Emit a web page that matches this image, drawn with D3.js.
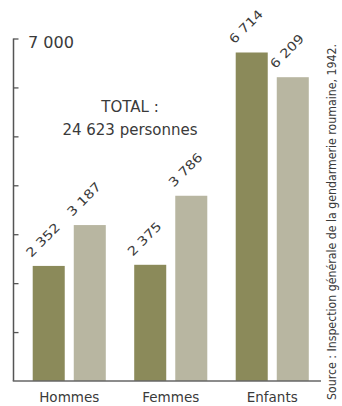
<!DOCTYPE html>
<html><head><meta charset="utf-8">
<script src="https://cdn.jsdelivr.net/npm/d3@7"></script>
<style>body{margin:0;background:#fff}svg{display:block}text{font-family:"DejaVu Sans",sans-serif;fill:#3a3a3a}</style>
</head><body>
<svg id="c" width="342" height="406"></svg>
<script>
const categories = ["Hommes", "Femmes", "Enfants"];
const series1942a = [2352, 2375, 6714];
const series1942b = [3187, 3786, 6209];
const valueLabelsA = ["2 352", "2 375", "6 714"];
const valueLabelsB = ["3 187", "3 786", "6 209"];
const tickValues = [1000, 2000, 3000, 4000, 5000, 6000, 7000];
const topTickLabel = "7 000";
const totalLines = ["TOTAL :", "24 623 personnes"];
const sourceText = "Source : Inspection générale de la gendarmerie roumaine, 1942.";
const colors = ["#8b8a5a", "#b8b6a1"];

const svg = d3.select("#c");
const x0 = d3.scaleBand().domain(categories).range([18.5, 323]).paddingInner(0.28).paddingOuter(0.14);
const x1 = d3.scaleBand().domain([0, 1]).range([0, x0.bandwidth()]).paddingInner(0.22).paddingOuter(0);
const y = d3.scaleLinear().domain([0, 7000]).range([381, 38.5]);

const data = categories.map((c, i) => ({c, vals: [series1942a[i], series1942b[i]], labs: [valueLabelsA[i], valueLabelsB[i]]}));

const g = svg.selectAll("g.grp").data(data).join("g").attr("class", "grp")
  .attr("transform", d => `translate(${x0(d.c)},0)`);
g.selectAll("rect").data(d => d.vals.map((v, k) => ({v, k}))).join("rect")
  .attr("x", d => x1(d.k)).attr("width", x1.bandwidth())
  .attr("y", d => y(d.v)).attr("height", d => y(0) - y(d.v))
  .attr("fill", d => colors[d.k]);
g.selectAll("text.val").data(d => d.vals.map((v, k) => ({v, k, l: d.labs[k]}))).join("text")
  .attr("class", "val")
  .attr("transform", d => `translate(${x1(d.k) - 1.5},${y(d.v) - 8}) rotate(-45)`)
  .attr("font-size", 12.5).attr("textLength", 42).attr("lengthAdjust", "spacingAndGlyphs")
  .text(d => d.l);

// axis
const axisX = 13.5;
svg.append("line").attr("x1", axisX).attr("x2", axisX).attr("y1", y(0)).attr("y2", y(7000))
  .attr("stroke", "#555").attr("stroke-width", 1.5);
const ax = svg.append("g").attr("transform", `translate(${axisX},0)`)
  .call(d3.axisRight(y).tickValues(tickValues).tickSize(5).tickFormat(""));
ax.select(".domain").remove();
ax.selectAll(".tick line").attr("stroke", "#555").attr("stroke-width", 1.3);
svg.append("text").attr("x", 28).attr("y", y(7000) + 9).attr("font-size", 16)
  .attr("textLength", 46).attr("lengthAdjust", "spacingAndGlyphs").text(topTickLabel);

// baseline
svg.append("line").attr("x1", axisX - 0.75).attr("x2", 321).attr("y1", y(0)).attr("y2", y(0))
  .attr("stroke", "#666").attr("stroke-width", 1.5);

// category labels
svg.selectAll("text.cat").data(categories).join("text").attr("class", "cat")
  .attr("x", d => x0(d) + x0.bandwidth() / 2).attr("y", 402)
  .attr("text-anchor", "middle").attr("font-size", 13.5).text(d => d);

// total
svg.selectAll("text.tot").data(totalLines).join("text").attr("class", "tot")
  .attr("x", 130).attr("y", (d, i) => 112 + i * 23)
  .attr("text-anchor", "middle").attr("font-size", 15).text(d => d);

// source
svg.append("text").attr("transform", "translate(336,400) rotate(-90)")
  .attr("font-size", 11.5).attr("textLength", 356).attr("lengthAdjust", "spacingAndGlyphs")
  .text(sourceText);
</script>
</body></html>
